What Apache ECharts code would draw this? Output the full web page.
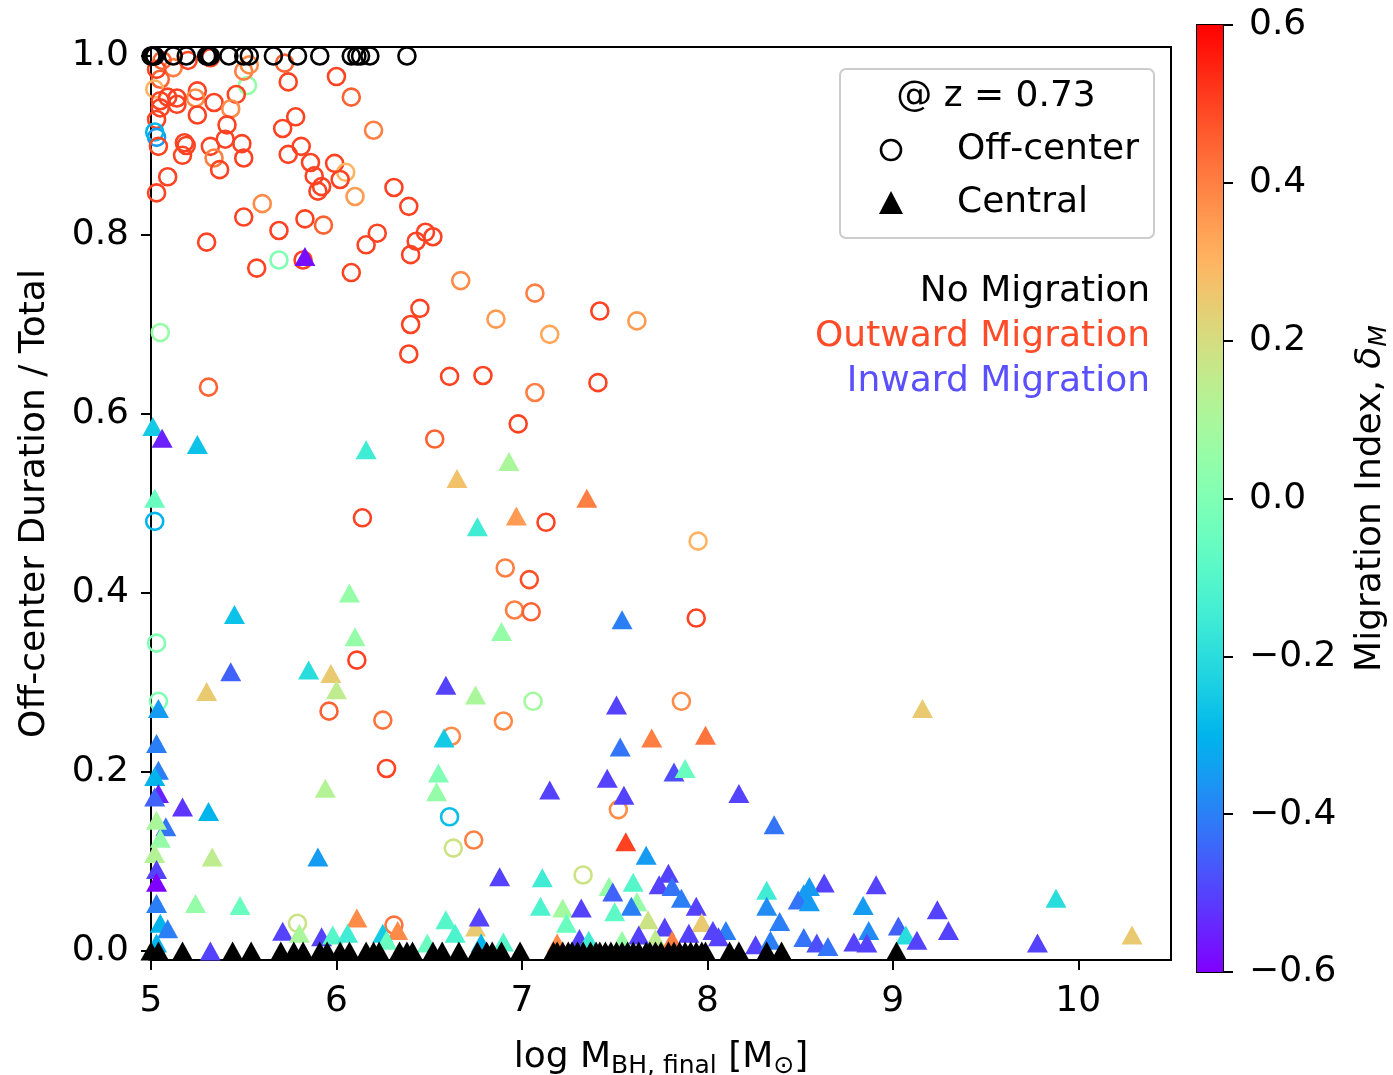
<!DOCTYPE html>
<html>
<head>
<meta charset="utf-8">
<script src="https://cdn.jsdelivr.net/npm/echarts@6/dist/echarts.min.js"></script>
<style>
html,body{margin:0;padding:0;background:#fff;}
#chart{width:1393px;height:1075px;}
</style>
</head>
<body>
<div id="chart"></div>
<script>
// ---- Data: [log M_BH,final, off-center fraction, migration index delta_M] ----
const offCenterPoints = [
  [6.00,0.977,0.5],[5.74,0.971,0.5],[6.08,0.954,0.45],[5.52,0.967,0.05],[5.46,0.957,0.5],[5.25,0.961,0.5],
  [5.24,0.953,0.38],[5.34,0.948,0.5],[5.14,0.953,0.5],[5.14,0.946,0.5],[5.43,0.941,0.38],[5.25,0.934,0.5],
  [5.78,0.932,0.5],[5.71,0.919,0.5],[6.20,0.917,0.4],[5.41,0.923,0.5],[5.40,0.907,0.5],[5.18,0.903,0.5],
  [5.19,0.900,0.5],[5.32,0.899,0.5],[5.49,0.902,0.5],[5.81,0.899,0.5],[5.17,0.889,0.5],[5.34,0.886,0.4],
  [5.50,0.886,0.5],[5.74,0.890,0.5],[5.86,0.881,0.5],[5.99,0.880,0.5],[5.37,0.873,0.5],[6.05,0.870,0.3],
  [5.88,0.866,0.5],[6.02,0.862,0.5],[5.92,0.854,0.5],[5.90,0.849,0.5],[6.10,0.843,0.35],[6.31,0.853,0.5],
  [6.39,0.832,0.5],[5.09,0.865,0.5],[5.03,0.847,0.5],[5.60,0.835,0.38],[5.50,0.820,0.5],[5.69,0.805,0.5],
  [5.83,0.818,0.5],[5.93,0.811,0.45],[6.22,0.802,0.5],[6.16,0.789,0.5],[6.43,0.793,0.5],[6.48,0.803,0.5],
  [6.52,0.798,0.5],[6.40,0.778,0.5],[5.30,0.792,0.5],[5.69,0.772,0.0],[5.82,0.772,0.5],[5.57,0.763,0.5],
  [6.08,0.758,0.5],[6.67,0.749,0.38],[6.45,0.718,0.5],[6.40,0.700,0.5],[5.05,0.691,0.05],
  [5.12,0.987,0.4],[5.32,0.998,0.5],[5.50,0.983,0.4],[5.53,0.990,0.38],[5.72,0.992,0.45],[5.05,0.974,0.45],
  [5.02,0.963,0.3],[5.05,0.950,0.5],[5.09,0.954,0.5],[5.05,0.942,0.5],[5.03,0.929,0.5],[5.03,0.909,-0.35],
  [5.02,0.915,-0.3],[5.04,0.899,0.5],[5.03,0.985,0.5],[5.01,1.000,0.5],[5.20,0.995,0.5],[5.06,0.995,0.45],
  [5.31,0.630,0.45],[6.39,0.667,0.5],[6.61,0.642,0.5],[6.79,0.643,0.5],[6.53,0.572,0.45],[6.14,0.484,0.5],
  [5.02,0.480,-0.3],[5.03,0.344,0.0],
  [7.07,0.735,0.4],[6.86,0.706,0.35],[7.15,0.689,0.33],[7.42,0.715,0.5],[7.62,0.704,0.35],[7.07,0.624,0.4],
  [7.41,0.635,0.5],[6.98,0.589,0.5],[7.13,0.479,0.5],[7.95,0.458,0.3],[6.91,0.428,0.4],[7.04,0.415,0.48],
  [6.96,0.381,0.4],[7.05,0.379,0.45],[7.94,0.372,0.5],
  [6.11,0.325,0.5],[5.96,0.268,0.45],[6.25,0.258,0.42],[6.62,0.240,0.38],[6.27,0.204,0.5],[6.61,0.150,-0.28],
  [6.74,0.124,0.4],[6.63,0.115,0.18],[5.79,0.031,0.18],[6.31,0.029,0.42],[5.04,0.279,0.0],[7.06,0.279,0.08],
  [6.90,0.257,0.38],[7.86,0.279,0.38],[7.52,0.158,0.38],[7.33,0.085,0.18]
];

const centralPoints = [
  [5.83,0.776,-0.58],[5.01,0.586,-0.25],[5.06,0.573,-0.55],[5.25,0.566,-0.27],[6.16,0.560,-0.15],[6.65,0.528,0.27],
  [6.76,0.474,-0.15],[5.02,0.506,-0.05],[6.07,0.400,0.05],[6.10,0.351,0.05],[5.45,0.376,-0.27],
  [6.93,0.547,0.1],[7.35,0.506,0.4],[6.97,0.486,0.35],[7.54,0.370,-0.4],[6.89,0.357,0.05],
  [5.43,0.312,-0.45],[5.85,0.314,-0.2],[5.97,0.310,0.25],[6.00,0.292,0.15],[5.30,0.290,0.25],[6.59,0.297,-0.5],
  [6.75,0.286,0.1],[6.58,0.238,-0.25],[6.55,0.199,0.0],[6.54,0.178,0.05],[5.94,0.182,0.12],[5.17,0.161,-0.52],
  [5.31,0.156,-0.3],[5.08,0.139,-0.42],[5.33,0.105,0.15],[5.90,0.105,-0.35],[5.24,0.053,0.05],[5.48,0.051,-0.05],
  [6.11,0.037,0.38],[6.33,0.023,0.38],[6.59,0.035,-0.1],[6.64,0.020,-0.12],[6.75,0.027,0.25],[6.77,0.038,-0.5],
  [5.71,0.022,-0.5],[5.80,0.020,0.1],[5.92,0.016,-0.5],[5.98,0.018,-0.1],[6.06,0.020,-0.15],[6.25,0.020,-0.25],
  [6.27,0.012,-0.05],[6.49,0.009,-0.05],[5.32,0.000,-0.5],
  [5.04,0.271,-0.35],[5.03,0.232,-0.4],[5.04,0.202,-0.4],[5.02,0.195,-0.3],[5.04,0.176,-0.55],[5.02,0.172,-0.45],
  [5.03,0.146,0.1],[5.05,0.126,0.05],[5.02,0.109,0.12],[5.03,0.091,-0.5],[5.03,0.077,-0.6],[5.03,0.053,-0.4],
  [5.05,0.031,-0.3],[5.09,0.025,-0.4],[5.03,0.009,-0.3],
  [7.51,0.275,-0.5],[7.70,0.238,0.4],[7.99,0.241,0.42],[7.53,0.228,-0.42],[7.46,0.193,-0.5],[7.82,0.200,-0.48],
  [7.88,0.204,-0.05],[7.55,0.174,-0.5],[7.15,0.180,-0.5],[8.17,0.176,-0.5],[8.36,0.141,-0.42],[7.56,0.122,0.5],
  [7.67,0.107,-0.35],[6.88,0.083,-0.5],[7.11,0.082,-0.15],[7.47,0.072,0.05],[7.49,0.066,-0.45],[7.60,0.077,-0.1],
  [7.79,0.087,-0.5],[7.74,0.074,-0.5],[7.81,0.072,-0.42],[7.62,0.055,0.05],[7.59,0.050,-0.4],[7.10,0.050,-0.12],
  [7.22,0.048,0.08],[7.24,0.031,-0.05],[7.32,0.048,-0.5],[7.50,0.044,-0.08],[7.86,0.059,-0.4],[7.94,0.050,-0.5],
  [7.68,0.035,0.18],[7.97,0.032,0.25],[7.77,0.027,-0.5],[7.90,0.020,-0.5],[8.03,0.023,-0.5],[8.10,0.023,-0.4],
  [8.32,0.068,-0.15],[8.32,0.050,-0.38],[8.39,0.033,-0.4],[8.52,0.064,-0.35],[8.49,0.057,-0.42],[8.52,0.015,-0.42],
  [8.26,0.007,-0.5],[7.72,0.014,0.15],[7.81,0.012,0.4],[7.63,0.018,-0.5],[7.19,0.009,0.38],[7.31,0.014,-0.5],
  [7.36,0.012,-0.15],[6.78,0.009,-0.3],[6.90,0.010,-0.1],[7.54,0.012,0.05],[8.34,0.012,-0.4],[8.06,0.016,-0.5],
  [9.16,0.271,0.25],[8.63,0.076,-0.5],[8.55,0.072,-0.35],[8.55,0.055,-0.35],[8.91,0.074,-0.5],[8.84,0.051,-0.35],
  [9.24,0.046,-0.5],[9.88,0.059,-0.2],[8.87,0.023,-0.38],[9.03,0.028,-0.45],[9.07,0.018,-0.2],[9.13,0.012,-0.5],
  [9.30,0.023,-0.5],[8.59,0.009,-0.48],[8.65,0.005,-0.42],[8.79,0.010,-0.5],[8.86,0.009,-0.5],[9.78,0.009,-0.5],
  [10.29,0.018,0.25]
];

// No migration (black) markers: [log M, fraction]
const noMigOffCenter = [
  [5.00,1.0],[5.01,1.0],[5.02,1.0],[5.12,1.0],[5.19,1.0],[5.30,1.0],[5.31,1.0],[5.32,1.0],[5.42,1.0],
  [5.50,1.0],[5.53,1.0],[5.66,1.0],[5.79,1.0],[5.91,1.0],[6.08,1.0],[6.11,1.0],[6.13,1.0],[6.18,1.0],[6.38,1.0]
];
const noMigCentral = [
  [5.00,0],[5.04,0],[5.17,0],[5.44,0],[5.54,0],[5.70,0],[5.77,0],[5.82,0],[5.91,0],[5.95,0],[6.02,0],[6.07,0],
  [6.16,0],[6.20,0],[6.23,0],[6.34,0],[6.38,0],[6.41,0],[6.52,0],[6.57,0],[6.66,0],[6.76,0],[6.81,0],[6.84,0],
  [6.89,0],[6.99,0],[7.17,0],[7.19,0],[7.22,0],[7.25,0],[7.27,0],[7.30,0],[7.33,0],[7.37,0],[7.40,0],[7.42,0],
  [7.45,0],[7.48,0],[7.51,0],[7.54,0],[7.57,0],[7.60,0],[7.63,0],[7.67,0],[7.69,0],[7.72,0],[7.75,0],[7.79,0],
  [7.82,0],[7.85,0],[7.88,0],[7.91,0],[7.94,0],[7.97,0],[7.99,0],[8.12,0],[8.17,0],[8.32,0],[8.40,0],[9.02,0]
];

const xTicks = [5, 6, 7, 8, 9, 10];
const yTicks = [0, 0.2, 0.4, 0.6, 0.8, 1.0];
const cbarTicks = [-0.6, -0.4, -0.2, 0, 0.2, 0.4, 0.6];
const xRange = [5, 10.5];
const yRange = [-0.01, 1.01];
const deltaRange = [-0.6, 0.6];

// ---- matplotlib "rainbow" colormap ----
function rainbow(t) {
  t = Math.max(0, Math.min(1, t));
  const r = Math.min(1, Math.abs(2 * t - 0.5));
  const g = Math.sin(Math.PI * t);
  const b = Math.cos(Math.PI * t / 2);
  return 'rgb(' + Math.round(r * 255) + ',' + Math.round(g * 255) + ',' + Math.round(b * 255) + ')';
}
function deltaColor(d) { return rainbow((d - deltaRange[0]) / (deltaRange[1] - deltaRange[0])); }

const FONT = 'DejaVu Sans';
const FS = 36;
const fmtTick = v => (v < 0 ? '\u2212' : '') + Math.abs(v).toFixed(1);

const gradStops = [];
for (let i = 0; i <= 40; i++) gradStops.push({ offset: i / 40, color: rainbow(1 - i / 40) });

const chart = echarts.init(document.getElementById('chart'), null, { renderer: 'canvas' });

const axisCommon = {
  axisLine: { show: true, onZero: false, lineStyle: { color: '#000', width: 2 } },
  splitLine: { show: false },
};

const option = {
  animation: false,
  backgroundColor: '#fff',
  textStyle: { fontFamily: FONT },
  grid: [
    { left: 151, top: 47, width: 1020, height: 913, show: true, borderColor: '#000', borderWidth: 2,
      backgroundColor: 'transparent', containLabel: false, outerBoundsMode: 'none' },
    { left: 1197, top: 25, width: 26, height: 947, show: true, borderColor: '#000', borderWidth: 2,
      backgroundColor: 'transparent', containLabel: false, outerBoundsMode: 'none' }
  ],
  xAxis: [
    Object.assign({}, axisCommon, {
      type: 'value', gridIndex: 0, min: xRange[0], max: xRange[1],
      axisTick: { show: true, customValues: xTicks, length: 10, lineStyle: { color: '#000', width: 2 } },
      axisLabel: { customValues: xTicks, fontSize: FS, color: '#000', fontFamily: FONT, margin: 24, formatter: v => String(v) },
      name: '{n|log M}{s|BH, final}{n| [M}{s|\u2299}{n|]}',
      nameLocation: 'middle', nameGap: 80,
      nameTextStyle: {
        rich: {
          n: { fontSize: FS, fontFamily: FONT, color: '#000', verticalAlign: 'bottom', padding: [0, 0, 3, 0] },
          s: { fontSize: 25, fontFamily: FONT, color: '#000', verticalAlign: 'bottom' }
        }
      }
    }),
    { type: 'value', gridIndex: 1, min: 0, max: 1, show: false }
  ],
  yAxis: [
    Object.assign({}, axisCommon, {
      type: 'value', gridIndex: 0, min: yRange[0], max: yRange[1],
      axisTick: { show: true, customValues: yTicks, length: 10, lineStyle: { color: '#000', width: 2 } },
      axisLabel: { customValues: yTicks, fontSize: FS, color: '#000', fontFamily: FONT, margin: 22, formatter: v => v.toFixed(1) },
      name: 'Off-center Duration / Total',
      nameLocation: 'middle', nameGap: 98,
      nameTextStyle: { fontSize: FS, color: '#000', fontFamily: FONT }
    }),
    {
      type: 'value', gridIndex: 1, position: 'right', min: deltaRange[0], max: deltaRange[1],
      axisLine: { show: false, onZero: false },
      splitLine: { show: false },
      axisTick: { show: true, customValues: cbarTicks, length: 10, lineStyle: { color: '#000', width: 2 } },
      axisLabel: { customValues: cbarTicks, fontSize: FS, color: '#000', fontFamily: FONT, margin: 26, formatter: fmtTick },
      name: '{n|Migration Index, }{i|\u03B4}{s|M}',
      nameLocation: 'middle', nameGap: 130,
      nameTextStyle: {
        rich: {
          n: { fontSize: FS, fontFamily: FONT, color: '#000', verticalAlign: 'bottom', padding: [0, 0, 3, 0] },
          i: { fontSize: FS, fontFamily: FONT, fontStyle: 'italic', color: '#000', verticalAlign: 'bottom', padding: [0, 0, 3, 0] },
          s: { fontSize: 25, fontFamily: FONT, fontStyle: 'italic', color: '#000', verticalAlign: 'bottom' }
        }
      }
    }
  ],
  series: [
    {
      name: 'Off-center', type: 'scatter', xAxisIndex: 0, yAxisIndex: 0, clip: true,
      symbol: 'circle', symbolSize: 17, z: 2,
      data: offCenterPoints.map(d => ({ value: d, itemStyle: { opacity: 1, color: 'rgba(255,255,255,0)', borderColor: deltaColor(d[2]), borderWidth: 2.6 } }))
    },
    {
      name: 'Central', type: 'scatter', xAxisIndex: 0, yAxisIndex: 0, clip: true,
      symbol: 'triangle', symbolSize: [21, 19], z: 3,
      data: centralPoints.map(d => ({ value: d, itemStyle: { opacity: 1, color: deltaColor(d[2]) } }))
    },
    {
      name: 'Off-center', type: 'scatter', xAxisIndex: 0, yAxisIndex: 0, clip: true,
      symbol: 'circle', symbolSize: 17, z: 4,
      itemStyle: { opacity: 1, color: 'rgba(255,255,255,0)', borderColor: '#000', borderWidth: 2.6 },
      data: noMigOffCenter
    },
    {
      name: 'Central', type: 'scatter', xAxisIndex: 0, yAxisIndex: 0, clip: true,
      symbol: 'triangle', symbolSize: [21, 19], z: 5,
      itemStyle: { opacity: 1, color: '#000' },
      data: noMigCentral
    },
    {
      name: 'colorbar', type: 'custom', xAxisIndex: 1, yAxisIndex: 1, silent: true, z: 1,
      data: [[0, deltaRange[0], deltaRange[1]]],
      renderItem: function (params, api) {
        const pTop = api.coord([0, api.value(2)]);
        const pBot = api.coord([1, api.value(1)]);
        return {
          type: 'rect',
          shape: { x: pTop[0], y: pTop[1], width: pBot[0] - pTop[0], height: pBot[1] - pTop[1] },
          style: { fill: new echarts.graphic.LinearGradient(0, 0, 0, 1, gradStops) }
        };
      }
    }
  ],
  graphic: [
    { type: 'rect', left: 839, top: 68, z: 100,
      shape: { width: 314, height: 169, r: 6 },
      style: { fill: 'rgba(255,255,255,0.85)', stroke: '#cccccc', lineWidth: 2 } },
    { type: 'text', x: 996, y: 97, z: 101,
      style: { text: '@ z = 0.73', font: FS + 'px "' + FONT + '"', fill: '#000', align: 'center', verticalAlign: 'middle' } },
    { type: 'circle', z: 101, shape: { cx: 891, cy: 150, r: 10 },
      style: { fill: 'none', stroke: '#000', lineWidth: 2.6 } },
    { type: 'text', x: 957, y: 150, z: 101,
      style: { text: 'Off-center', font: FS + 'px "' + FONT + '"', fill: '#000', align: 'left', verticalAlign: 'middle' } },
    { type: 'polygon', z: 101, shape: { points: [[891, 191], [903, 214], [879, 214]] },
      style: { fill: '#000' } },
    { type: 'text', x: 957, y: 203, z: 101,
      style: { text: 'Central', font: FS + 'px "' + FONT + '"', fill: '#000', align: 'left', verticalAlign: 'middle' } },
    { type: 'text', x: 1150, y: 292, z: 101,
      style: { text: 'No Migration', font: FS + 'px "' + FONT + '"', fill: '#000', align: 'right', verticalAlign: 'middle' } },
    { type: 'text', x: 1150, y: 337, z: 101,
      style: { text: 'Outward Migration', font: FS + 'px "' + FONT + '"', fill: '#ff4b28', align: 'right', verticalAlign: 'middle' } },
    { type: 'text', x: 1150, y: 382, z: 101,
      style: { text: 'Inward Migration', font: FS + 'px "' + FONT + '"', fill: '#5a50ff', align: 'right', verticalAlign: 'middle' } }
  ]
};

chart.setOption(option);
</script>
</body>
</html>
